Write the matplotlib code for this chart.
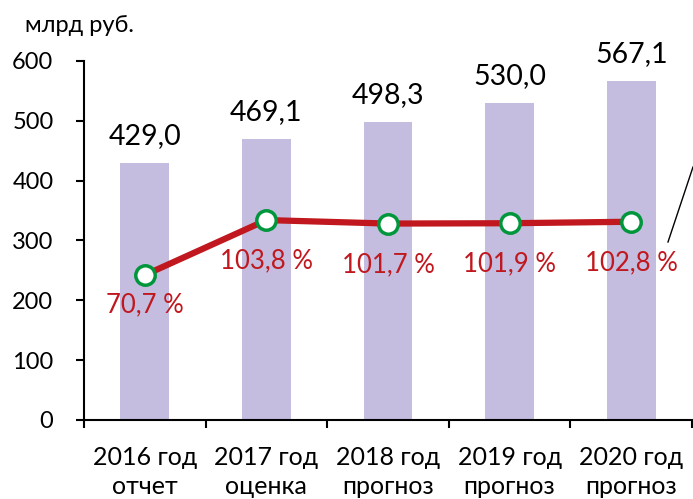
import numpy as np
import matplotlib
matplotlib.use('Agg')
from matplotlib import pyplot as plt
from matplotlib.lines import Line2D

years = ['2016 год\nотчет', '2017 год\nоценка', '2018 год\nпрогноз',
         '2019 год\nпрогноз', '2020 год\nпрогноз']
volume = [429.0, 469.1, 498.3, 530.0, 567.1]
growth = [70.7, 103.8, 101.7, 101.9, 102.8]

bar_color = '#c4bddf'
red = '#c0181e'
green = '#00963c'

plt.rcParams['font.family'] = ['Lato', 'DejaVu Sans']

W, H = 693, 499
fig = plt.figure(figsize=(W / 100, H / 100), dpi=100)
ax = fig.add_axes([84 / W, (H - 420) / H, 608 / W, 359 / H])

x = np.arange(len(volume))
ax.bar(x, volume, width=0.4, color=bar_color, zorder=1)
for xi, v in zip(x, volume):
    ax.annotate(f'{v:.1f}'.replace('.', ','), (xi, v), xytext=(0, 27),
                textcoords='offset pixels', ha='center', va='center',
                fontsize=20.5, color='black')

ax.set_xlim(-0.5, len(volume) - 0.5)
ax.set_ylim(0, 600)
ax.set_yticks(range(0, 601, 100))
ax.tick_params(axis='y', labelsize=17, length=6, width=1.5, direction='out', pad=16)
ax.set_xticks(np.arange(-0.5, len(volume), 1.0))
ax.set_xticklabels([])
ax.set_xticks(x, minor=True)
ax.set_xticklabels(years, minor=True, fontsize=18, linespacing=1.3)
ax.tick_params(axis='x', which='major', length=6, width=1.5, direction='out')
ax.tick_params(axis='x', which='minor', length=0, pad=19)
for s in ['top', 'right']:
    ax.spines[s].set_visible(False)
ax.spines['left'].set_linewidth(1.5)
ax.spines['bottom'].set_linewidth(1.5)

ax2 = ax.twinx()
ax2.set_ylim(-16.6, 199.6)
ax2.axis('off')
ax2.plot(x, growth, color=red, lw=4.5, zorder=3,
         marker='o', ms=14, mfc='white', mec=green, mew=2.5)
offs = [30, 41, 41, 41, 41]
for xi, g, o in zip(x, growth, offs):
    ax2.annotate(f'{g:.1f} %'.replace('.', ','), (xi, g), xytext=(0, -o),
                 textcoords='offset pixels', ha='center', va='center',
                 fontsize=18.5, color=red)

fig.text(25 / W, 1 - 25 / H, 'млрд руб.', fontsize=17, ha='left', va='center')

fig.add_artist(Line2D([693 / W, 668 / W], [1 - 167 / H, 1 - 242 / H],
                      transform=fig.transFigure, color='black', lw=1))

fig.savefig('out.png', dpi=100)
